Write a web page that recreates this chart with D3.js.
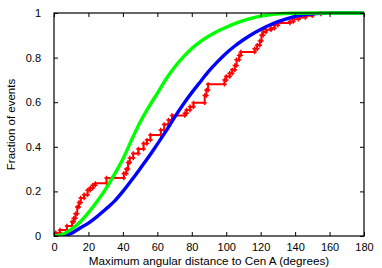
<!DOCTYPE html>
<meta charset="utf-8">
<head>
  <meta charset="utf-8">
  <title>Angular distance CDF</title>
  <style>
    body { margin: 0; background: #fff; }
    text { font-family: "Liberation Sans", Arial, sans-serif; }
  </style>
</head>
<body>
<script src="https://cdn.jsdelivr.net/npm/d3@7"></script>
<script>

// x ticks and y ticks
var xTicks = [0, 20, 40, 60, 80, 100, 120, 140, 160, 180];
var yTicks = [0, 0.2, 0.4, 0.6, 0.8, 1];

// green curve
var greenX = [0, 5, 10, 15, 20, 25, 30, 35, 40, 45, 50, 55, 60, 65, 70, 75, 80, 85, 90, 95, 100, 105, 110, 115, 120, 125, 130, 140, 150, 180];
var greenY = [0, 0.008, 0.03, 0.062, 0.105, 0.155, 0.21, 0.275, 0.345, 0.43, 0.51, 0.578, 0.64, 0.703, 0.757, 0.802, 0.841, 0.872, 0.897, 0.918, 0.936, 0.952, 0.966, 0.977, 0.986, 0.992, 0.996, 0.999, 1, 1];

// blue curve
var blueX = [0, 5, 10, 15, 20, 25, 30, 35, 40, 45, 50, 55, 60, 65, 70, 75, 80, 85, 90, 95, 100, 105, 110, 115, 120, 125, 130, 135, 140, 145, 150, 155, 160, 180];
var blueY = [0, 0.002, 0.012, 0.035, 0.058, 0.087, 0.12, 0.155, 0.2, 0.25, 0.302, 0.355, 0.412, 0.47, 0.532, 0.59, 0.643, 0.692, 0.74, 0.782, 0.82, 0.852, 0.88, 0.905, 0.926, 0.945, 0.961, 0.974, 0.985, 0.992, 0.996, 0.999, 1, 1];

// red empirical steps: angle where the fraction jumps, and fraction after it
var redX = [0, 1, 3.5, 7.5, 10.5, 11.5, 12.5, 13.5, 14.5, 15.5, 17.5, 19.5, 21, 22.5, 24, 30.5, 40.5, 42, 43, 44, 46, 49, 52, 54, 56, 62, 64, 66.5, 68.5, 76, 77, 79, 81, 87.5, 88.5, 89.5, 99, 100, 102, 103.5, 105, 106, 107.5, 108.5, 116.5, 118, 119.5, 120.5, 121.5, 123, 126, 128, 130, 137, 139, 142, 146, 150, 155, 180];
var redY = [0.005, 0.015, 0.027, 0.045, 0.064, 0.08, 0.1, 0.13, 0.15, 0.17, 0.185, 0.205, 0.215, 0.228, 0.236, 0.26, 0.28, 0.3, 0.33, 0.35, 0.37, 0.39, 0.415, 0.43, 0.453, 0.475, 0.5, 0.52, 0.54, 0.55, 0.565, 0.58, 0.597, 0.63, 0.655, 0.68, 0.7, 0.715, 0.73, 0.745, 0.765, 0.79, 0.81, 0.825, 0.84, 0.855, 0.875, 0.9, 0.915, 0.925, 0.932, 0.945, 0.955, 0.962, 0.972, 0.98, 0.988, 0.995, 1, 1];

var margin = {top: 13, right: 18, bottom: 32, left: 54},
    width = 382 - margin.left - margin.right,
    height = 268 - margin.top - margin.bottom;

var x = d3.scaleLinear().domain([0, 180]).range([0, width]);
var y = d3.scaleLinear().domain([0, 1]).range([height, 0]);

var svg = d3.select("body").append("svg")
    .attr("width", 382)
    .attr("height", 268)
  .append("g")
    .attr("transform", "translate(" + margin.left + "," + margin.top + ")");

svg.append("clipPath").attr("id", "clip")
  .append("rect").attr("x", 0).attr("y", -2).attr("width", width).attr("height", height + 2);

var plot = svg.append("g").attr("clip-path", "url(#clip)");

// red steps
var redPts = redX.map(function(d, i) { return [d, redY[i]]; });
redPts.unshift([0, 0]);
plot.append("path")
    .datum(redPts)
    .attr("fill", "none")
    .attr("stroke", "#ff0000")
    .attr("stroke-width", 2)
    .attr("d", d3.line()
        .curve(d3.curveStepAfter)
        .x(function(d) { return x(d[0]); })
        .y(function(d) { return y(d[1]); }));

// crosses at step corners
var corners = [];
redPts.forEach(function(d, i) {
  if (i > 0) corners.push([d[0], redPts[i - 1][1]]);
  corners.push(d);
});
plot.selectAll(".cross")
    .data(corners)
    .enter().append("path")
    .attr("class", "cross")
    .attr("transform", function(d) { return "translate(" + x(d[0]) + "," + y(d[1]) + ")"; })
    .attr("d", d3.symbol().type(d3.symbolCross).size(11))
    .attr("fill", "#ff0000");

function curve(xs, ys, color) {
  plot.append("path")
      .datum(xs.map(function(d, i) { return [d, ys[i]]; }))
      .attr("fill", "none")
      .attr("stroke", color)
      .attr("stroke-width", 3.4)
      .attr("d", d3.line()
          .curve(d3.curveMonotoneX)
          .x(function(d) { return x(d[0]); })
          .y(function(d) { return y(d[1]); }));
}

curve(blueX, blueY, "#0000ff");
curve(greenX, greenY, "#00ff00");

// axes, ticks inward on all sides
function styleAxis(g) {
  g.select(".domain").remove();
  g.selectAll("line").attr("stroke", "#000");
  g.selectAll("text").style("font-size", "11px").attr("fill", "#000");
}

svg.append("g")
    .attr("transform", "translate(0," + height + ")")
    .call(d3.axisBottom(x).tickValues(xTicks).tickSizeInner(-4).tickSizeOuter(0).tickPadding(7))
    .call(styleAxis);

svg.append("g")
    .call(d3.axisTop(x).tickValues(xTicks).tickSizeInner(-4).tickSizeOuter(0).tickFormat(""))
    .call(styleAxis);

svg.append("g")
    .call(d3.axisLeft(y).tickValues(yTicks).tickSizeInner(-4).tickSizeOuter(0).tickPadding(13)
        .tickFormat(function(d) { return d === 0 || d === 1 ? d3.format("d")(d) : d3.format(".1f")(d); }))
    .call(styleAxis);

svg.append("g")
    .attr("transform", "translate(" + width + ",0)")
    .call(d3.axisRight(y).tickValues(yTicks).tickSizeInner(-4).tickSizeOuter(0).tickFormat(""))
    .call(styleAxis);

svg.append("rect")
    .attr("width", width)
    .attr("height", height)
    .attr("fill", "none")
    .attr("stroke", "#000")
    .attr("stroke-width", 1.2);

// axis titles
svg.append("text")
    .attr("x", width / 2)
    .attr("y", height + 29)
    .attr("text-anchor", "middle")
    .style("font-size", "11.7px")
    .text("Maximum angular distance to Cen A (degrees)");

svg.append("text")
    .attr("transform", "translate(" + (15 - margin.left) + "," + (height / 2) + ") rotate(-90)")
    .attr("text-anchor", "middle")
    .style("font-size", "11.5px")
    .text("Fraction of events");

</script>
</body>
